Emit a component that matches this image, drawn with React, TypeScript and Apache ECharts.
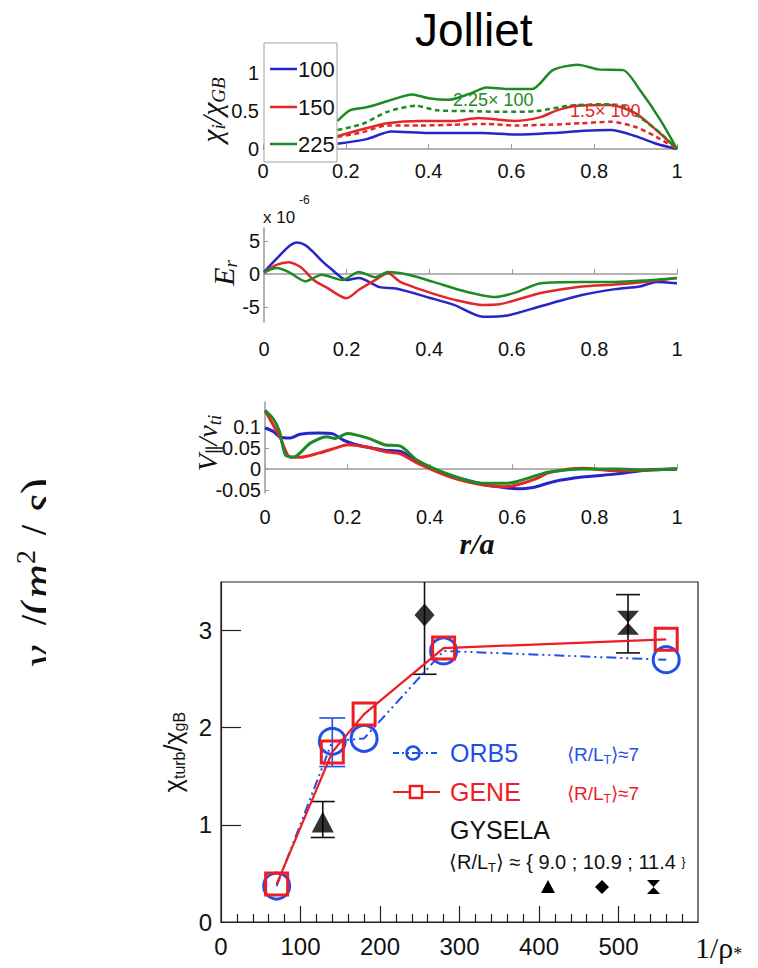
import React, { useEffect, useRef } from 'react';
import * as echarts from 'echarts';

const SANS = "'Liberation Sans', Arial, Helvetica, sans-serif";
const SERIF = "'Liberation Serif', 'DejaVu Serif', 'Times New Roman', serif";
const BLUE = '#2626c8';
const RED = '#e32626';
const GREEN = '#1e8a24';
const OBLUE = '#1f50e8';
const ORED = '#ee1c24';

// ---------- Panel 1: chi_i / chi_GB vs r/a ----------
const chiLegend = ['100', '150', '225'];
const chi100 = [[0.18, 0.07], [0.25, 0.13], [0.31, 0.23], [0.4, 0.21], [0.47, 0.21], [0.53, 0.21], [0.61, 0.19], [0.7, 0.21], [0.775, 0.24], [0.84, 0.25], [0.9, 0.17], [0.95, 0.07], [1.0, 0.0]];
const chi150 = [[0.18, 0.17], [0.24, 0.26], [0.3, 0.34], [0.38, 0.37], [0.46, 0.37], [0.52, 0.41], [0.61, 0.37], [0.67, 0.42], [0.71, 0.51], [0.76, 0.57], [0.84, 0.58], [0.9, 0.47], [0.95, 0.25], [1.0, 0.0]];
const chi225 = [[0.18, 0.37], [0.21, 0.51], [0.25, 0.55], [0.3, 0.63], [0.36, 0.72], [0.4, 0.67], [0.45, 0.65], [0.5, 0.73], [0.54, 0.81], [0.59, 0.79], [0.65, 0.79], [0.7, 1.04], [0.76, 1.11], [0.81, 1.05], [0.87, 1.04], [0.91, 0.78], [0.96, 0.38], [1.0, 0.0]];
const chi150Scaled = [[0.18, 0.16], [0.24, 0.22], [0.3, 0.31], [0.38, 0.31], [0.46, 0.32], [0.54, 0.33], [0.61, 0.31], [0.69, 0.32], [0.77, 0.34], [0.84, 0.36], [0.9, 0.29], [0.95, 0.16], [1.0, 0.0]];
const chi225Scaled = [[0.18, 0.25], [0.24, 0.33], [0.3, 0.49], [0.37, 0.57], [0.42, 0.51], [0.5, 0.5], [0.58, 0.49], [0.66, 0.5], [0.74, 0.57], [0.82, 0.59], [0.87, 0.57], [0.91, 0.42], [0.96, 0.21], [1.0, 0.0]];
const chiXTicks = [0, 0.2, 0.4, 0.6, 0.8, 1];
const chiYTicks = [0, 0.5, 1];
const chiNotes = ['2.25× 100', '1.5× 100'];

// ---------- Panel 2: E_r ----------
const er100 = [[0, 0.3], [0.03, 2.3], [0.06, 4.2], [0.08, 4.8], [0.1, 4.4], [0.12, 3.3], [0.14, 2.0], [0.16, 0.9], [0.2, -0.9], [0.23, -0.6], [0.28, -2.0], [0.32, -2.2], [0.4, -3.6], [0.46, -4.7], [0.53, -6.5], [0.59, -6.3], [0.67, -4.9], [0.77, -3.2], [0.85, -2.3], [0.91, -1.9], [0.95, -1.2], [1.0, -1.4]];
const er150 = [[0, 0.2], [0.03, 1.4], [0.06, 1.8], [0.09, 1.0], [0.12, -0.9], [0.15, -2.0], [0.2, -3.7], [0.23, -2.4], [0.27, -0.9], [0.3, 0.1], [0.33, -1.2], [0.4, -2.8], [0.46, -3.9], [0.53, -4.7], [0.57, -4.6], [0.67, -2.9], [0.77, -1.9], [0.85, -1.6], [0.92, -1.2], [1.0, -0.6]];
const er225 = [[0, 0.2], [0.03, 0.9], [0.06, 0.3], [0.1, -1.1], [0.14, -0.1], [0.19, -0.9], [0.23, 0.3], [0.27, -0.5], [0.3, 0.3], [0.35, -0.1], [0.41, -1.2], [0.49, -2.7], [0.56, -3.5], [0.61, -2.8], [0.67, -1.4], [0.77, -1.2], [0.85, -1.2], [0.92, -1.0], [1.0, -0.6]];
const erYTicks = [-5, 0, 5];

// ---------- Panel 3: V_par / v_ti ----------
const v100 = [[0, 0.098], [0.02, 0.09], [0.036, 0.077], [0.06, 0.074], [0.085, 0.083], [0.13, 0.086], [0.165, 0.084], [0.19, 0.069], [0.215, 0.06], [0.25, 0.052], [0.29, 0.045], [0.33, 0.042], [0.37, 0.018], [0.45, -0.015], [0.53, -0.036], [0.58, -0.044], [0.61, -0.047], [0.65, -0.044], [0.7, -0.03], [0.77, -0.019], [0.85, -0.012], [0.93, -0.002], [1, 0]];
const v150 = [[0, 0.14], [0.036, 0.077], [0.06, 0.029], [0.085, 0.028], [0.13, 0.038], [0.18, 0.053], [0.2, 0.058], [0.25, 0.052], [0.29, 0.042], [0.33, 0.036], [0.37, 0.014], [0.45, -0.019], [0.53, -0.038], [0.58, -0.042], [0.61, -0.038], [0.66, -0.022], [0.69, -0.008], [0.77, 0.002], [0.85, -0.004], [0.93, -0.002], [1, 0]];
const v225 = [[0, 0.14], [0.02, 0.12], [0.035, 0.09], [0.05, 0.033], [0.07, 0.029], [0.11, 0.062], [0.15, 0.077], [0.17, 0.073], [0.2, 0.085], [0.25, 0.074], [0.29, 0.058], [0.33, 0.054], [0.37, 0.021], [0.45, -0.014], [0.53, -0.034], [0.58, -0.034], [0.61, -0.03], [0.66, -0.015], [0.69, -0.007], [0.77, 0], [0.85, 0], [0.93, -0.002], [1, 0]];
const vYTicks = [-0.05, 0, 0.05, 0.1];

// ---------- Panel 4: chi_turb / chi_gB vs 1/rho* ----------
const orb5 = [[70, 0.37], [140, 1.86], [180, 1.89], [280, 2.79], [560, 2.7]];
const gene = [[70, 0.39], [140, 1.75], [180, 2.14], [280, 2.82], [560, 2.91]];
const orb5Err = [[140, 1.6, 2.1]];
const gyselaPts = [[128, 1.03], [256, 3.16], [512, 3.08]];
const gyselaErr = [[128, 0.87, 1.24], [256, 2.55, 3.7], [512, 2.77, 3.37]];
const rhoXLabels = [0, 100, 200, 300, 400, 500];
const rhoXMinor = [20, 40, 60, 80, 120, 140, 160, 180, 220, 240, 260, 280, 320, 340, 360, 380, 420, 440, 460, 480, 520, 540, 560, 580];
const rhoXMajor = [100, 200, 300, 400, 500];
const rhoYLabels = [0, 1, 2, 3];
const legendNames = ['ORB5', 'GENE', 'GYSELA'];

const BOWTIE = 'path://M0,0 L10,0 L0,12 L10,12 Z';

function errRender(color: string, cap: number) {
  return (params: any, api: any) => {
    const x = api.value(0);
    const lo = api.coord([x, api.value(1)]);
    const hi = api.coord([x, api.value(2)]);
    const h = cap / 2;
    const st = { stroke: color, lineWidth: 1.6 };
    return {
      type: 'group',
      children: [
        { type: 'line', shape: { x1: lo[0], y1: lo[1], x2: hi[0], y2: hi[1] }, style: st },
        { type: 'line', shape: { x1: lo[0] - h, y1: lo[1], x2: lo[0] + h, y2: lo[1] }, style: st },
        { type: 'line', shape: { x1: hi[0] - h, y1: hi[1], x2: hi[0] + h, y2: hi[1] }, style: st },
      ],
    };
  };
}

function smallAxisX(gi: number, margin: number) {
  return {
    gridIndex: gi, type: 'value', min: 0, max: 1,
    axisLine: { show: true, lineStyle: { color: '#9a9a9a', width: 1.5 } },
    axisTick: { show: true, inside: true, length: 5, customValues: chiXTicks, lineStyle: { color: '#9a9a9a' } },
    axisLabel: { customValues: chiXTicks, color: '#111', fontSize: 20, fontFamily: SANS, margin },
    splitLine: { show: false },
  };
}

function smallAxisY(gi: number, min: number, max: number, ticks: number[], showLine: boolean) {
  return {
    gridIndex: gi, type: 'value', min, max,
    axisLine: { show: showLine, lineStyle: { color: '#9a9a9a', width: 1.5 } },
    axisTick: { show: showLine, inside: true, length: 4, customValues: ticks, lineStyle: { color: '#9a9a9a' } },
    axisLabel: { customValues: ticks, color: '#111', fontSize: 20, fontFamily: SANS, margin: 4 },
    splitLine: { show: false },
  };
}

function lineSeries(xi: number, data: number[][], color: string, dashed?: boolean, width = 2.5) {
  return {
    type: 'line', xAxisIndex: xi, yAxisIndex: xi, data, showSymbol: false, symbol: 'none',
    smooth: 0.25,
    lineStyle: { color, width, type: dashed ? [5, 3.5] : 'solid' },
    z: 3,
  };
}

function rotText(x: number, y: number, rich: any, text: string) {
  return {
    type: 'text', x, y, rotation: Math.PI / 2, z: 50,
    style: { text, rich, align: 'center', verticalAlign: 'middle', fill: '#111' },
  };
}

export default function App() {
  const ref = useRef<HTMLDivElement>(null);
  useEffect(() => {
    if (!ref.current) return;
    const chart = echarts.init(ref.current, undefined, { renderer: 'svg' });
    const serifM = { fontFamily: SERIF, fontStyle: 'italic', fontSize: 30, lineHeight: 34, fill: '#111' };
    const serifS = { fontFamily: SERIF, fontStyle: 'italic', fontSize: 19, lineHeight: 14, verticalAlign: 'bottom', fill: '#111' };
    const rlt = (color: string, size: number) => ({
      n: { fontFamily: SANS, fontSize: size, lineHeight: size + 4, fill: color },
      s: { fontFamily: SANS, fontSize: size * 0.65, lineHeight: size * 0.5, verticalAlign: 'bottom', fill: color },
    });
    const bigSerif = { fontFamily: SERIF, fontSize: 48, lineHeight: 52, fill: '#111' };

    const option: any = {
      animation: false,
      backgroundColor: '#fff',
      title: {
        text: 'Jolliet', left: 410, top: 2,
        textStyle: { fontFamily: SANS, fontSize: 46, fontWeight: 'normal', color: '#000' },
      },
      grid: [
        { left: 263, top: 58, width: 414, height: 91 },
        { left: 264, top: 228, width: 413, height: 94 },
        { left: 265, top: 402, width: 412, height: 91 },
        { left: 221, top: 582, width: 477, height: 340, show: true, borderColor: '#222', borderWidth: 1.2, backgroundColor: 'transparent' },
      ],
      xAxis: [
        smallAxisX(0, 12),
        smallAxisX(1, 17),
        smallAxisX(2, 14),
        {
          gridIndex: 3, type: 'value', min: 0, max: 600,
          axisLine: { show: true, lineStyle: { color: '#222', width: 1.2 } },
          axisTick: { show: true, inside: true, length: 8, customValues: rhoXMinor, lineStyle: { color: '#222', width: 1.2 } },
          axisLabel: { customValues: rhoXLabels, color: '#111', fontSize: 24, fontFamily: SANS, margin: 12 },
          splitLine: { show: false },
        },
        {
          gridIndex: 3, type: 'value', min: 0, max: 600, position: 'bottom',
          axisLine: { show: false },
          axisTick: { show: true, inside: true, length: 16, customValues: rhoXMajor, lineStyle: { color: '#222', width: 1.2 } },
          axisLabel: { show: false },
          splitLine: { show: false },
        },
      ],
      yAxis: [
        smallAxisY(0, 0, 1.2, chiYTicks, false),
        smallAxisY(1, -7.3, 7, erYTicks, true),
        smallAxisY(2, -0.057, 0.16, vYTicks, true),
        {
          gridIndex: 3, type: 'value', min: 0, max: 3.5,
          axisLine: { show: true, lineStyle: { color: '#222', width: 1.2 } },
          axisTick: { show: true, inside: true, length: 20, customValues: [1, 2, 3], lineStyle: { color: '#222', width: 1.2 } },
          axisLabel: { customValues: rhoYLabels, color: '#111', fontSize: 24, fontFamily: SANS, margin: 9 },
          splitLine: { show: false },
          name: '{n|χ}{s|turb}{n|/χ}{s|gB}',
          nameLocation: 'middle', nameRotate: 90, nameGap: 34,
          nameTextStyle: {
            rich: {
              n: { fontFamily: SANS, fontSize: 25, lineHeight: 28, color: '#111' },
              s: { fontFamily: SANS, fontSize: 16, lineHeight: 12, verticalAlign: 'bottom', color: '#111' },
            },
          },
        },
      ],
      series: [
        lineSeries(0, chi100, BLUE),
        lineSeries(0, chi150Scaled, RED, true),
        lineSeries(0, chi150, RED),
        lineSeries(0, chi225Scaled, GREEN, true),
        lineSeries(0, chi225, GREEN),
        lineSeries(1, er100, BLUE),
        lineSeries(1, er150, RED),
        lineSeries(1, er225, GREEN),
        lineSeries(2, v100, BLUE, false, 3),
        lineSeries(2, v150, RED, false, 3),
        lineSeries(2, v225, GREEN, false, 3),
        {
          type: 'custom', name: 'gyselaErr', xAxisIndex: 3, yAxisIndex: 3, data: gyselaErr,
          renderItem: errRender('#111', 24), encode: { x: 0, y: [1, 2] }, clip: true, z: 2,
        },
        {
          type: 'custom', name: 'orb5Err', xAxisIndex: 3, yAxisIndex: 3, data: orb5Err,
          renderItem: errRender(OBLUE, 26), encode: { x: 0, y: [1, 2] }, clip: true, z: 2,
        },
        {
          type: 'scatter', name: legendNames[2], xAxisIndex: 3, yAxisIndex: 3, z: 3,
          data: [
            { value: gyselaPts[0], symbol: 'triangle', symbolSize: [22, 21] },
            { value: gyselaPts[1], symbol: 'diamond', symbolSize: [20, 23] },
            { value: gyselaPts[2], symbol: BOWTIE, symbolSize: [22, 24] },
          ],
          itemStyle: { color: '#000' },
        },
        {
          type: 'line', name: legendNames[0], xAxisIndex: 3, yAxisIndex: 3, data: orb5, z: 4,
          symbol: 'circle', symbolSize: 26, showAllSymbol: true,
          lineStyle: { color: OBLUE, width: 2, type: [10, 4, 2, 4, 2, 4] },
          itemStyle: { color: 'rgba(255,255,255,0)', borderColor: OBLUE, borderWidth: 3 },
        },
        {
          type: 'line', name: legendNames[1], xAxisIndex: 3, yAxisIndex: 3, data: gene, z: 5,
          symbol: 'rect', symbolSize: 22, showAllSymbol: true,
          lineStyle: { color: ORED, width: 2.2 },
          itemStyle: { color: 'rgba(255,255,255,0)', borderColor: ORED, borderWidth: 3 },
        },
      ],
      graphic: [
        // top panel legend
        { type: 'rect', z: 100, shape: { x: 264, y: 43, width: 73, height: 119 }, style: { fill: '#fff', stroke: '#a0a0a0', lineWidth: 1 } },
        { type: 'line', z: 101, shape: { x1: 270, y1: 69, x2: 297, y2: 69 }, style: { stroke: BLUE, lineWidth: 2.5 } },
        { type: 'line', z: 101, shape: { x1: 270, y1: 107, x2: 297, y2: 107 }, style: { stroke: RED, lineWidth: 2.5 } },
        { type: 'line', z: 101, shape: { x1: 270, y1: 144, x2: 297, y2: 144 }, style: { stroke: GREEN, lineWidth: 2.5 } },
        { type: 'text', z: 101, x: 298, y: 69, style: { text: chiLegend[0], fontFamily: SANS, fontSize: 22, fill: '#111', verticalAlign: 'middle' } },
        { type: 'text', z: 101, x: 298, y: 107, style: { text: chiLegend[1], fontFamily: SANS, fontSize: 22, fill: '#111', verticalAlign: 'middle' } },
        { type: 'text', z: 101, x: 298, y: 144, style: { text: chiLegend[2], fontFamily: SANS, fontSize: 22, fill: '#111', verticalAlign: 'middle' } },
        // notes
        { type: 'text', z: 60, x: 453, y: 100, style: { text: chiNotes[0], fontFamily: SANS, fontSize: 18, fill: GREEN, verticalAlign: 'middle' } },
        { type: 'text', z: 60, x: 570, y: 111, style: { text: chiNotes[1], fontFamily: SANS, fontSize: 18, fill: RED, verticalAlign: 'middle' } },
        // axis titles panels 1-3
        rotText(211, 110, { m: serifM, s: serifS }, '{m|χ}{s|i}{m|/χ}{s|GB}'),
        rotText(223, 273, { m: serifM, s: serifS }, '{m|E}{s|r}'),
        rotText(207, 443, { m: { ...serifM, fontSize: 28 }, s: { ...serifS, fontStyle: 'normal' }, t: serifS }, '{m|V}{s|∥}{m|/v}{t|ti}'),
        { type: 'text', z: 50, x: 263, y: 217, style: { text: 'x 10', fontFamily: SANS, fontSize: 17, fill: '#111', verticalAlign: 'middle' } },
        { type: 'text', z: 50, x: 299, y: 200, style: { text: '-6', fontFamily: SANS, fontSize: 12, fill: '#111', verticalAlign: 'middle' } },
        { type: 'text', z: 50, x: 477, y: 543, style: { text: 'r/a', fontFamily: SERIF, fontStyle: 'italic', fontWeight: 'bold', fontSize: 30, fill: '#111', align: 'center', verticalAlign: 'middle' } },
        {
          type: 'text', z: 50, x: 695, y: 947,
          style: {
            text: '{n|1/ρ}{s|*}', verticalAlign: 'middle',
            rich: {
              n: { fontFamily: SERIF, fontSize: 30, lineHeight: 32, fill: '#111' },
              s: { fontFamily: SERIF, fontSize: 18, lineHeight: 10, verticalAlign: 'bottom', fill: '#111' },
            },
          },
        },
        // bottom panel legend
        { type: 'line', z: 60, shape: { x1: 393, y1: 753, x2: 440, y2: 753 }, style: { stroke: OBLUE, lineWidth: 2, lineDash: [6, 3, 2, 3, 2, 3] } },
        { type: 'circle', z: 61, shape: { cx: 413, cy: 753, r: 6.5 }, style: { fill: 'none', stroke: OBLUE, lineWidth: 2.5 } },
        { type: 'text', z: 60, x: 450, y: 753, style: { text: legendNames[0], fontFamily: SANS, fontSize: 25, fill: OBLUE, verticalAlign: 'middle' } },
        { type: 'text', z: 60, x: 567, y: 754, style: { text: '{n|⟨R/L}{s|T}{n|⟩≈7}', rich: rlt(OBLUE, 19), verticalAlign: 'middle' } },
        { type: 'line', z: 60, shape: { x1: 393, y1: 792, x2: 440, y2: 792 }, style: { stroke: ORED, lineWidth: 2.2 } },
        { type: 'rect', z: 61, shape: { x: 410, y: 786, width: 12, height: 12 }, style: { fill: '#fff', stroke: ORED, lineWidth: 2.5 } },
        { type: 'text', z: 60, x: 450, y: 792, style: { text: legendNames[1], fontFamily: SANS, fontSize: 25, fill: ORED, verticalAlign: 'middle' } },
        { type: 'text', z: 60, x: 567, y: 793, style: { text: '{n|⟨R/L}{s|T}{n|⟩≈7}', rich: rlt(ORED, 19), verticalAlign: 'middle' } },
        { type: 'text', z: 60, x: 450, y: 830, style: { text: legendNames[2], fontFamily: SANS, fontSize: 25, fill: '#111', verticalAlign: 'middle' } },
        { type: 'text', z: 60, x: 449, y: 862, style: { text: '{n|⟨R/L}{s|T}{n|⟩ ≈ { 9.0 ; 10.9 ; 11.4 }}', rich: rlt('#111', 20), verticalAlign: 'middle' } },
        { type: 'polygon', z: 60, shape: { points: [[548, 880], [555, 893], [541, 893]] }, style: { fill: '#000' } },
        { type: 'polygon', z: 60, shape: { points: [[602, 880], [609, 887], [602, 894], [595, 887]] }, style: { fill: '#000' } },
        { type: 'polygon', z: 60, shape: { points: [[647, 880], [660, 880], [647, 894], [660, 894]] }, style: { fill: '#000' } },
        // left clipped label
        rotText(37, 553, {
          m: { ...bigSerif, fontStyle: 'italic' },
          n: bigSerif,
          p: { ...bigSerif, fontSize: 28, verticalAlign: 'top' },
        }, '{n|/(}{m|m}{p|2}{n| / }{m|s}{n|)}'),
        rotText(37, 656, { m: { ...bigSerif, fontStyle: 'italic' } }, '{m|ν}'),
        { type: 'rect', z: 80, shape: { x: 46, y: 440, width: 80, height: 250 }, style: { fill: '#fff' } },
      ],
    };
    chart.setOption(option);
    return () => chart.dispose();
  }, []);
  return (
    <div
      ref={ref}
      style={{ position: 'absolute', left: 0, top: 0, width: 758, height: 968, background: '#fff' }}
    />
  );
}
